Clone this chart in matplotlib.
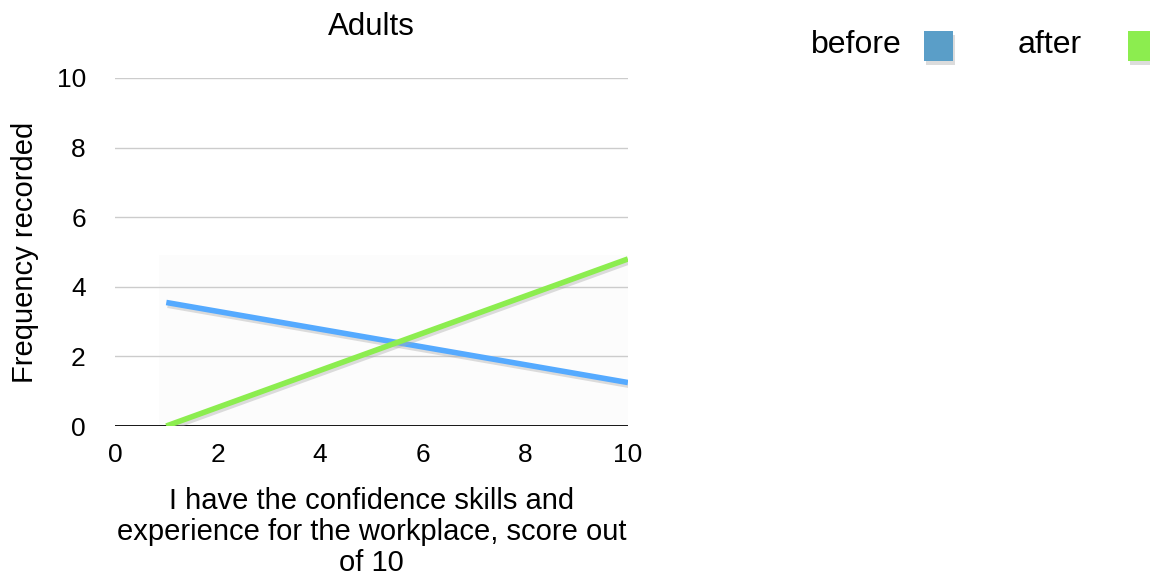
import matplotlib
matplotlib.use("Agg")
import matplotlib.pyplot as plt
import matplotlib.patheffects as pe
from matplotlib.patches import Rectangle

plt.rcParams['font.family'] = ['Liberation Sans', 'DejaVu Sans']

# Trend lines of score vs. frequency
scores = [1, 10]
before = [3.55, 1.25]
after = [0.0, 4.8]
series_names = ["before", "after"]
y_ticks = [0, 2, 4, 6, 8, 10]
x_ticks = [0, 2, 4, 6, 8, 10]

blue = "#55aaff"
green = "#8ced4f"

fig = plt.figure(figsize=(11.5, 5.82), dpi=100)
ax = fig.add_axes([0.1, 0.268, 0.446, 0.598])
ax.set_xlim(0, 10)
ax.set_ylim(0, 10)

# faint backdrop behind the plotted lines
ax.add_patch(Rectangle((0.85, 0), 9.15, 4.9, facecolor="#fcfcfc",
                       edgecolor="none", zorder=0))

for y in y_ticks[1:]:
    ax.axhline(y, color="#cccccc", lw=1, zorder=1)
ax.axhline(0, color="black", lw=2, zorder=2)

shadow = [pe.SimpleLineShadow(offset=(1, -2), shadow_color="#aaaaaa", alpha=0.4),
          pe.Normal()]
ax.plot(scores, before, color=blue, lw=4, solid_capstyle="butt",
        path_effects=shadow, zorder=3)
ax.plot(scores, after, color=green, lw=4, solid_capstyle="butt",
        path_effects=shadow, zorder=4)

for s in ax.spines.values():
    s.set_visible(False)
ax.set_xticks(x_ticks)
ax.set_yticks(y_ticks)
ax.tick_params(length=0, labelsize=19)
ax.tick_params(axis="x", pad=12.5)
ax.tick_params(axis="y", pad=21)
ax.set_title("Adults", fontsize=22.5, pad=31)
ax.set_xlabel("I have the confidence skills and\nexperience for the workplace, score out\nof 10",
              fontsize=21, labelpad=14, linespacing=1.15)
ax.set_ylabel("Frequency recorded", fontsize=21, labelpad=13)

# legend: text followed by a colour swatch
fig.text(856 / 1150, 1 - 45 / 582, series_names[0], fontsize=23,
         ha="center", va="center")
fig.text(1050 / 1150, 1 - 45 / 582, series_names[1], fontsize=23,
         ha="center", va="center")
for x0, col in [(924, "#5a9ec8"), (1128, green)]:
    fig.patches.append(Rectangle((x0 / 1150 + 0.002, 1 - 65 / 582), 29 / 1150, 30 / 582,
                                 transform=fig.transFigure, facecolor="#bbbbbb",
                                 edgecolor="none", alpha=0.5))
    fig.patches.append(Rectangle((x0 / 1150, 1 - 61 / 582), 29 / 1150, 30 / 582,
                                 transform=fig.transFigure, facecolor=col,
                                 edgecolor="none"))

fig.savefig("out.png", dpi=100)
